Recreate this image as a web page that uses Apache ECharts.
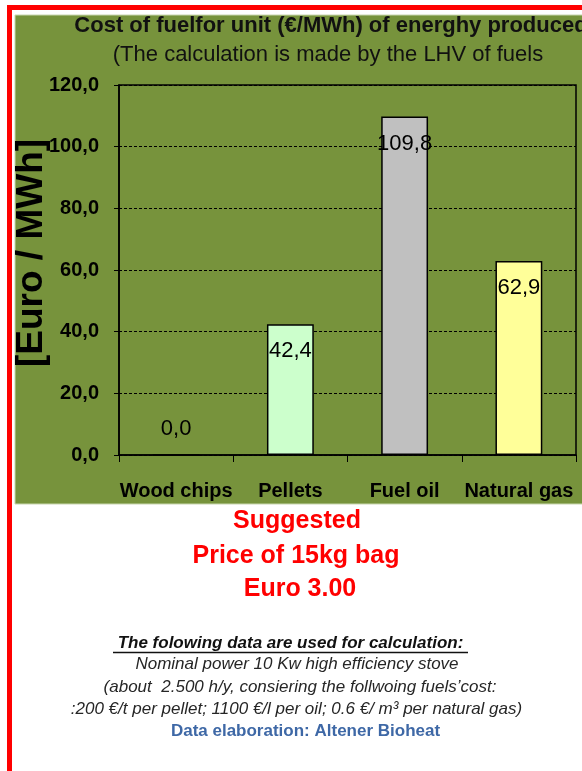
<!DOCTYPE html>
<html>
<head>
<meta charset="utf-8">
<script src="https://cdn.jsdelivr.net/npm/echarts@6/dist/echarts.min.js"></script>
<style>
html,body{margin:0;padding:0;background:#fff;}
#chart{width:582px;height:771px;}
</style>
</head>
<body>
<div id="chart"></div>
<script>
const categories = ['Wood chips', 'Pellets', 'Fuel oil', 'Natural gas'];
const values = [0, 42.4, 109.8, 62.9];
const barColors = ['#9999FF', '#CCFFCC', '#C0C0C0', '#FFFF99'];
const yTicks = [0, 20, 40, 60, 80, 100, 120];

const FONT = 'Liberation Sans, Arial, sans-serif';
const fmt = v => Number(v).toFixed(1).replace('.', ',');

const chart = echarts.init(document.getElementById('chart'), null, {renderer: 'canvas'});

const option = {
  backgroundColor: '#ffffff',
  animation: false,
  grid: {
    left: 119, top: 85, right: 6, bottom: 316,
    containLabel: false, outerBoundsMode: 'none',
    show: true, borderColor: '#000', borderWidth: 1.5, backgroundColor: 'transparent'
  },
  xAxis: {
    type: 'category',
    data: categories,
    boundaryGap: true,
    axisLine: {show: true, lineStyle: {color: '#000', width: 1.5}},
    axisTick: {show: true, interval: 0, alignWithLabel: false, length: 7, lineStyle: {color: '#000', width: 1}},
    axisLabel: {interval: 0, color: '#000', fontFamily: FONT, fontWeight: 'bold', fontSize: 20, margin: 26},
    splitLine: {show: false}
  },
  yAxis: {
    type: 'value',
    min: yTicks[0], max: yTicks[yTicks.length - 1], interval: 20,
    name: '[Euro / MWh]',
    nameLocation: 'middle',
    nameGap: 69,
    nameMoveOverlap: false,
    nameTextStyle: {fontFamily: FONT, fontWeight: 'bold', fontSize: 37, color: '#000', padding: [0, 0, 0, 34]},
    axisLine: {show: true, lineStyle: {color: '#000', width: 1.5}},
    axisTick: {show: true, inside: false, length: 5, lineStyle: {color: '#000', width: 1}},
    axisLabel: {color: '#000', fontFamily: FONT, fontWeight: 'bold', fontSize: 20, margin: 20, formatter: fmt},
    splitLine: {show: true, lineStyle: {color: '#000', width: 1, type: [3, 2]}}
  },
  series: [{
    type: 'bar',
    barWidth: '41%',
    data: values.map((v, i) => {
      const item = {value: v, itemStyle: {color: barColors[i]}};
      if (v === 0) item.label = {position: 'top', distance: 14};
      return item;
    }),
    itemStyle: {borderColor: '#000', borderWidth: 1.5},
    label: {
      show: true, position: 'insideTop', distance: 16,
      color: '#000', fontFamily: FONT, fontSize: 22,
      formatter: p => fmt(p.value)
    },
    z: 3
  }],
  graphic: [
    {type: 'rect', z: -20, silent: true, shape: {x: 7, y: 5, width: 575, height: 5}, style: {fill: '#FF0000'}},
    {type: 'rect', z: -20, silent: true, shape: {x: 7, y: 5, width: 5, height: 766}, style: {fill: '#FF0000'}},
    {type: 'rect', z: -19, silent: true, shape: {x: 15, y: 15, width: 570, height: 489}, style: {fill: '#77933C', stroke: '#C9D6AE', lineWidth: 1}},
    {type: 'text', z: 50, x: 331, y: 26, style: {text: 'Cost of fuelfor unit (€/MWh) of energhy produced', fill: '#111', font: 'bold 22px ' + FONT, textAlign: 'center', textVerticalAlign: 'middle'}},
    {type: 'text', z: 50, x: 328, y: 55, style: {text: '(The calculation is made by the LHV of fuels', fill: '#111', font: '22px ' + FONT, textAlign: 'center', textVerticalAlign: 'middle'}},
    {type: 'text', z: 50, x: 297, y: 521, style: {text: 'Suggested', fill: '#FF0000', font: 'bold 25px ' + FONT, textAlign: 'center', textVerticalAlign: 'middle'}},
    {type: 'text', z: 50, x: 296, y: 556, style: {text: 'Price of 15kg bag', fill: '#FF0000', font: 'bold 25px ' + FONT, textAlign: 'center', textVerticalAlign: 'middle'}},
    {type: 'text', z: 50, x: 300, y: 589, style: {text: 'Euro 3.00', fill: '#FF0000', font: 'bold 25px ' + FONT, textAlign: 'center', textVerticalAlign: 'middle'}},
    {type: 'text', z: 50, x: 290.5, y: 643, style: {text: 'The folowing data are used for calculation:', fill: '#111', font: 'italic bold 17px ' + FONT, textAlign: 'center', textVerticalAlign: 'middle'}},
    {type: 'line', z: 50, silent: true, shape: {x1: 113, y1: 652.5, x2: 468, y2: 652.5}, style: {stroke: '#111', lineWidth: 1.3}},
    {type: 'text', z: 50, x: 297, y: 664, style: {text: 'Nominal power 10 Kw high efficiency stove', fill: '#262626', font: 'italic 17px ' + FONT, textAlign: 'center', textVerticalAlign: 'middle'}},
    {type: 'text', z: 50, x: 300, y: 687, style: {text: '(about  2.500 h/y, consiering the follwoing fuels\u2019cost:', fill: '#262626', font: 'italic 17px ' + FONT, textAlign: 'center', textVerticalAlign: 'middle'}},
    {type: 'text', z: 50, x: 296.5, y: 709, style: {text: ':200 €/t per pellet; 1100 €/l per oil; 0.6 €/ m\u00B3 per natural gas)', fill: '#262626', font: 'italic 17px ' + FONT, textAlign: 'center', textVerticalAlign: 'middle'}},
    {type: 'text', z: 50, x: 305.5, y: 731, style: {text: 'Data elaboration: Altener Bioheat', fill: '#3E68A6', font: 'bold 17px ' + FONT, textAlign: 'center', textVerticalAlign: 'middle'}}
  ]
};

chart.setOption(option);
</script>
</body>
</html>
